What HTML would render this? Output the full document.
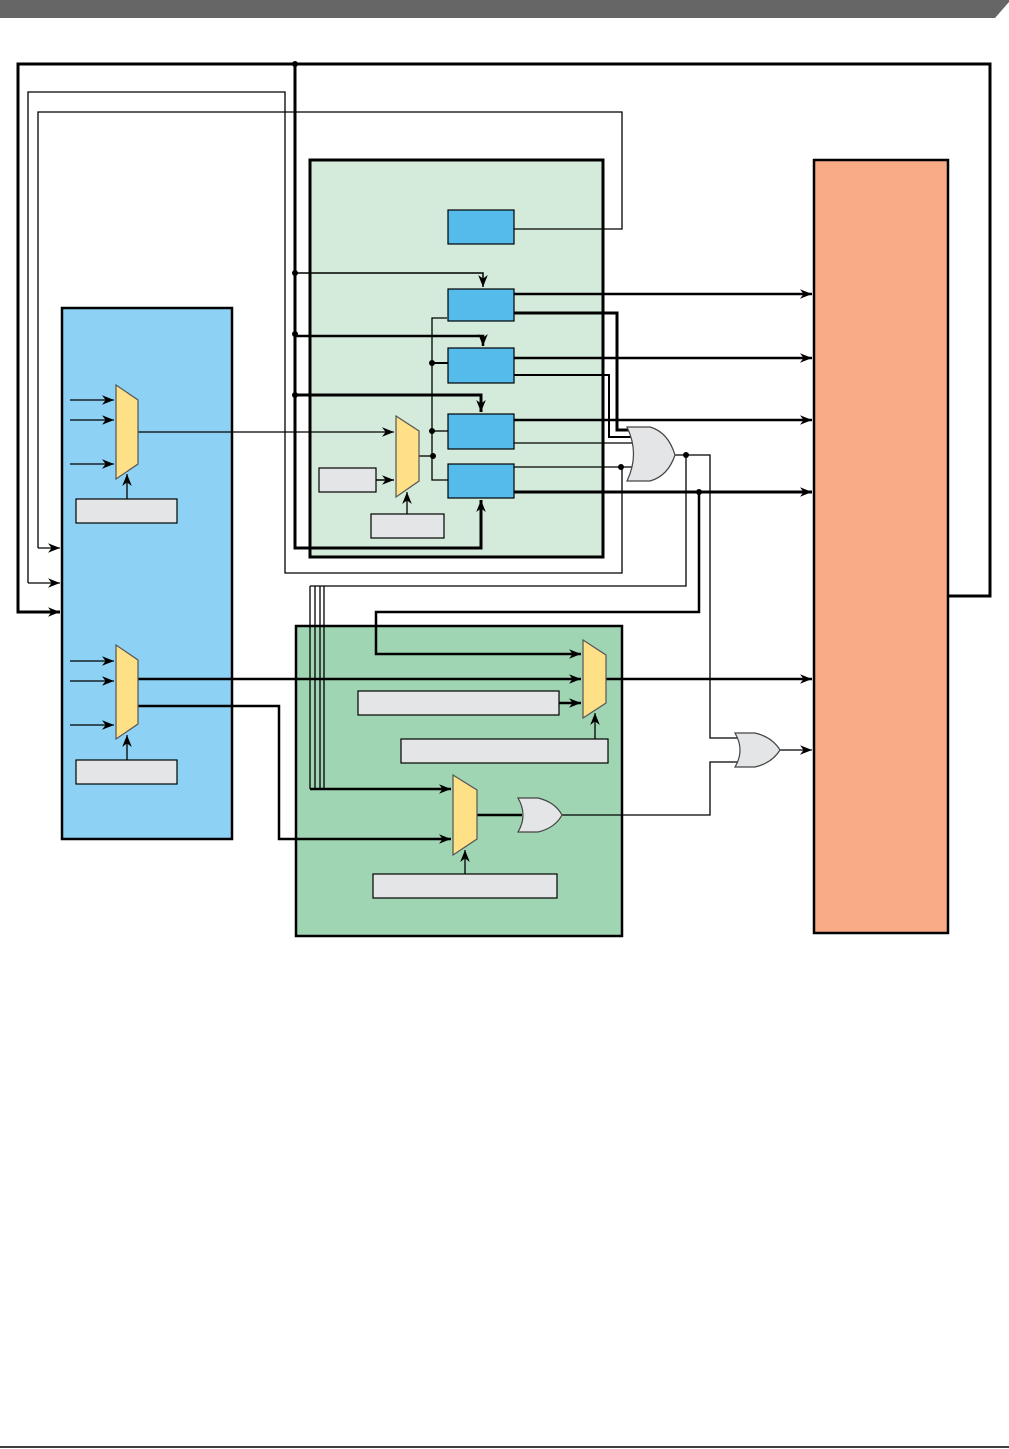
<!DOCTYPE html>
<html><head><meta charset="utf-8"><style>html,body{margin:0;padding:0;background:#fff}svg{display:block}</style></head>
<body>
<svg width="1009" height="1449" viewBox="0 0 1009 1449" xmlns="http://www.w3.org/2000/svg">
<defs>
<marker id="a" viewBox="0 0 10 10" refX="10" refY="5" markerWidth="12" markerHeight="12" markerUnits="userSpaceOnUse" orient="auto"><path d="M0,1 L10,5 L0,9 L3,5 z" fill="#000"/></marker>
</defs>
<polygon points="0,0 1009,0 1009,2 995,18 0,18" fill="#666"/>
<line x1="0" y1="1447" x2="1009" y2="1447" stroke="#000" stroke-width="1.5"/>

<!-- big boxes -->
<rect x="310" y="160" width="293" height="397" fill="#d4eadb" stroke="#000" stroke-width="3"/>
<rect x="62" y="308" width="170" height="531" fill="#8dd2f4" stroke="#000" stroke-width="2.5"/>
<rect x="296" y="626" width="326" height="310" fill="#a0d5b4" stroke="#000" stroke-width="2.5"/>
<rect x="814" y="160" width="134" height="773" fill="#f8ab84" stroke="#000" stroke-width="2.5"/>

<g fill="none" stroke="#000">
<!-- top loops -->
<polyline points="949,596 990,596 990,64 18,64 18,612 60,612" stroke-width="3" marker-end="url(#a)"/>
<polyline points="28,583 28,92 285,92 285,573 622,573 622,467" stroke-width="1.3"/>
<line x1="28" y1="583" x2="60" y2="583" stroke-width="1.3" marker-end="url(#a)"/>
<polyline points="38,548 38,112 622,112 622,229 514,229" stroke-width="1.3"/>
<line x1="38" y1="548" x2="60" y2="548" stroke-width="1.3" marker-end="url(#a)"/>
<polyline points="295,64 295,548 481,548 481,500" stroke-width="3" marker-end="url(#a)"/>
<polyline points="295,273 483,273 483,287" stroke-width="1.5" marker-end="url(#a)"/>
<polyline points="295,336 483,336 483,346" stroke-width="2.5" marker-end="url(#a)"/>
<polyline points="295,395 481,395 481,412" stroke-width="3" marker-end="url(#a)"/>

<!-- outputs of blue boxes -->
<line x1="514" y1="294" x2="812" y2="294" stroke-width="2.5" marker-end="url(#a)"/>
<polyline points="514,313 617,313 617,430 630,430" stroke-width="3"/>
<line x1="514" y1="358" x2="812" y2="358" stroke-width="2.5" marker-end="url(#a)"/>
<polyline points="514,375 609,375 609,437 632,437" stroke-width="2"/>
<line x1="514" y1="420" x2="812" y2="420" stroke-width="2.5" marker-end="url(#a)"/>
<line x1="514" y1="443" x2="634" y2="443" stroke-width="1.3"/>
<line x1="514" y1="467" x2="634" y2="467" stroke-width="1.3"/>
<line x1="514" y1="492" x2="812" y2="492" stroke-width="3" marker-end="url(#a)"/>
<!-- OR1 output -->
<polyline points="675,455 710,455 710,738 738,738" stroke-width="1.3"/>
<polyline points="686,455 686,586 310,586" stroke-width="1.3"/>
<line x1="310" y1="586" x2="310" y2="789" stroke-width="1.3"/>
<line x1="315" y1="586" x2="315" y2="789" stroke-width="1.3"/>
<line x1="320" y1="586" x2="320" y2="789" stroke-width="1.3"/>
<line x1="324" y1="586" x2="324" y2="789" stroke-width="1.3"/>
<polyline points="310,789 451,789" stroke-width="2.5" marker-end="url(#a)"/>
<polyline points="699,492 699,612 376,612 376,654 581,654" stroke-width="2.5" marker-end="url(#a)"/>

<!-- inner mux connections -->
<line x1="138" y1="432" x2="394" y2="432" stroke-width="1.3" marker-end="url(#a)"/>
<line x1="376" y1="480" x2="394" y2="480" stroke-width="1.5" marker-end="url(#a)"/>
<line x1="407" y1="514" x2="407" y2="492" stroke-width="1.3" marker-end="url(#a)"/>
<line x1="419" y1="456" x2="433" y2="456" stroke-width="1.3"/>
<polyline points="447,318 432,318 432,480 448,480" stroke-width="1.3"/>
<line x1="432" y1="363" x2="448" y2="363" stroke-width="2"/>
<line x1="432" y1="431" x2="448" y2="431" stroke-width="1.3"/>

<!-- left mux inputs -->
<line x1="70" y1="400" x2="114" y2="400" stroke-width="1.3" marker-end="url(#a)"/>
<line x1="70" y1="420" x2="114" y2="420" stroke-width="1.3" marker-end="url(#a)"/>
<line x1="70" y1="464" x2="114" y2="464" stroke-width="1.3" marker-end="url(#a)"/>
<line x1="127" y1="499" x2="127" y2="474" stroke-width="1.3" marker-end="url(#a)"/>
<line x1="70" y1="661" x2="114" y2="661" stroke-width="1.3" marker-end="url(#a)"/>
<line x1="70" y1="681" x2="114" y2="681" stroke-width="1.3" marker-end="url(#a)"/>
<line x1="70" y1="725" x2="114" y2="725" stroke-width="1.3" marker-end="url(#a)"/>
<line x1="127" y1="760" x2="127" y2="735" stroke-width="1.3" marker-end="url(#a)"/>
<line x1="138" y1="679" x2="581" y2="679" stroke-width="2.5" marker-end="url(#a)"/>
<polyline points="138,706 279,706 279,839 451,839" stroke-width="2.5" marker-end="url(#a)"/>

<!-- green2 -->
<line x1="559" y1="703" x2="581" y2="703" stroke-width="2.5" marker-end="url(#a)"/>
<line x1="595" y1="739" x2="595" y2="713" stroke-width="1.3" marker-end="url(#a)"/>
<line x1="606" y1="679" x2="812" y2="679" stroke-width="2.5" marker-end="url(#a)"/>
<line x1="465" y1="874" x2="465" y2="850" stroke-width="1.3" marker-end="url(#a)"/>
<line x1="477" y1="815" x2="522" y2="815" stroke-width="2.5"/>
<polyline points="562,815 710,815 710,762 738,762" stroke-width="1.3"/>
<line x1="780" y1="750" x2="812" y2="750" stroke-width="1.3" marker-end="url(#a)"/>
</g>

<!-- blue boxes -->
<g fill="#55bbea" stroke="#000" stroke-width="1.2">
<rect x="448" y="210" width="66" height="34"/>
<rect x="448" y="289" width="66" height="32"/>
<rect x="448" y="348" width="66" height="35"/>
<rect x="448" y="414" width="66" height="35"/>
<rect x="448" y="464" width="66" height="34"/>
</g>
<!-- gray boxes -->
<g fill="#e4e5e7" stroke="#000" stroke-width="1.2">
<rect x="319" y="468" width="57" height="24"/>
<rect x="371" y="514" width="73" height="24"/>
<rect x="76" y="499" width="101" height="24"/>
<rect x="76" y="760" width="101" height="24"/>
<rect x="358" y="691" width="201" height="24"/>
<rect x="401" y="739" width="207" height="24"/>
<rect x="373" y="874" width="184" height="24"/>
</g>
<!-- muxes -->
<g fill="#fee086" stroke="#555" stroke-width="1.2">
<polygon points="116,385 138,400 138,464 116,479"/>
<polygon points="116,645 138,660 138,724 116,739"/>
<polygon points="396,416 419,431 419,481 396,497"/>
<polygon points="583,640 606,655 606,703 583,718"/>
<polygon points="453,775 477,790 477,839 453,855"/>
</g>
<!-- OR gates -->
<g fill="#e4e5e7" stroke="#444" stroke-width="1.2">
<path d="M627,427 L650,427 Q668,432 675,455 Q668,476 650,481 L627,481 Q640,454 627,427 z"/>
<path d="M735,733 L755,733 Q772,737 780,750 Q772,763 755,767 L735,767 Q745,750 735,733 z"/>
<path d="M518,798 L538,798 Q555,802 562,815 Q555,828 538,832 L518,832 Q528,815 518,798 z"/>
</g>
<!-- dots -->
<g fill="#000">
<circle cx="295" cy="64" r="3"/>
<circle cx="295" cy="273" r="3"/><circle cx="295" cy="334" r="3"/><circle cx="295" cy="395" r="3"/>
<circle cx="432" cy="363" r="3"/><circle cx="432" cy="431" r="3"/><circle cx="433" cy="456" r="3"/>
<circle cx="621" cy="467" r="3"/><circle cx="686" cy="455" r="3"/><circle cx="699" cy="492" r="3"/>
</g>
</svg>
</body></html>
